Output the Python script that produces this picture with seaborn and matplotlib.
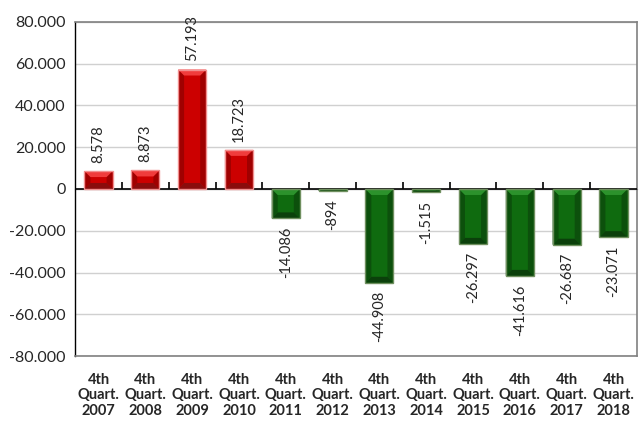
import numpy as np
import pandas as pd
import matplotlib
matplotlib.use("Agg")
import matplotlib.pyplot as plt
from matplotlib.patches import Polygon
from matplotlib.ticker import FuncFormatter, MultipleLocator
import seaborn as sns

quarters = ['4th\nQuart.\n2007', '4th\nQuart.\n2008', '4th\nQuart.\n2009', '4th\nQuart.\n2010',
            '4th\nQuart.\n2011', '4th\nQuart.\n2012', '4th\nQuart.\n2013', '4th\nQuart.\n2014',
            '4th\nQuart.\n2015', '4th\nQuart.\n2016', '4th\nQuart.\n2017', '4th\nQuart.\n2018']
saldo = [8578, 8873, 57193, 18723, -14086, -894, -44908, -1515, -26297, -41616, -26687, -23071]

df = pd.DataFrame({'periodo': quarters, 'saldo': saldo})
df['sinal'] = np.where(df['saldo'] >= 0, 'pos', 'neg')

cores = {'pos': '#CC0000', 'neg': '#0F6B0F'}
bevel = {
    'pos': {'top': '#F03C3C', 'bot': '#8A0C0C', 'side': '#A00000', 'edge': '#F29090'},
    'neg': {'top': '#2C922C', 'bot': '#0B400B', 'side': '#0C500C', 'edge': '#6F8F5F'},
}

def fmt_pt(v, pos=None):
    return f'{int(round(v)):,}'.replace(',', '.')

sns.set_style('white')
plt.rcParams['font.family'] = ['Lato', 'DejaVu Sans']

fig = plt.figure(figsize=(6.42, 4.29), dpi=100)
ax = fig.add_axes([0.117, 0.170, 0.875, 0.779])

sns.barplot(x='periodo', y='saldo', hue='sinal', data=df, palette=cores, dodge=False,
            width=0.6, legend=False, ax=ax, saturation=1, edgecolor='none')

ax.set_ylim(-80000, 80000)
ax.set_xlim(-0.5, len(quarters) - 0.5)
ax.yaxis.set_major_locator(MultipleLocator(20000))
ax.yaxis.set_major_formatter(FuncFormatter(fmt_pt))
ax.grid(axis='y', color='#D0D0D0', linewidth=1)
ax.set_axisbelow(True)
ax.set_xlabel('')
ax.set_ylabel('')

for s in ['top', 'right', 'bottom']:
    ax.spines[s].set_color('#808080')
    ax.spines[s].set_linewidth(1.2)
ax.spines['left'].set_color('black')
ax.spines['left'].set_linewidth(1)
ax.tick_params(axis='y', direction='out', length=4, width=1, color='black', labelsize=11.5, pad=3)
ax.tick_params(axis='x', length=0, labelsize=10.5, pad=12)
for t in ax.get_xticklabels():
    t.set_fontweight('bold')
    t.set_linespacing(1.15)

# zero line with category boundary ticks
ax.axhline(0, color='black', linewidth=1.2, zorder=3)
sec = ax.secondary_xaxis(0.5)
sec.set_xticks(np.arange(len(quarters) - 1) + 0.5)
sec.set_xticklabels([])
sec.tick_params(direction='out', length=5, width=1.2, color='black')
sec.spines['bottom'].set_visible(False)

# bevel effect built from the drawn bars
fig.canvas.draw()
px_x = ax.transData.transform([(1, 0)])[0][0] - ax.transData.transform([(0, 0)])[0][0]
px_y = ax.transData.transform([(0, 1000)])[0][1] - ax.transData.transform([(0, 0)])[0][1]
d_px = 6.0
for patch, val in zip(ax.patches, df['saldo']):
    k = 'pos' if val >= 0 else 'neg'
    x0 = patch.get_x()
    w = patch.get_width()
    x1 = x0 + w
    yb, yt = min(0, val), max(0, val)
    dx = d_px / px_x
    dy = min(d_px / px_y * 1000, (yt - yb) / 2)
    c = bevel[k]
    ax.add_patch(Polygon([(x0, yb), (x0 + dx, yb + dy), (x0 + dx, yt - dy), (x0, yt)],
                         closed=True, facecolor=c['side'], edgecolor='none', zorder=4))
    ax.add_patch(Polygon([(x1, yb), (x1 - dx, yb + dy), (x1 - dx, yt - dy), (x1, yt)],
                         closed=True, facecolor=c['side'], edgecolor='none', zorder=4))
    ax.add_patch(Polygon([(x0, yt), (x1, yt), (x1 - dx, yt - dy), (x0 + dx, yt - dy)],
                         closed=True, facecolor=c['top'], edgecolor='none', zorder=4))
    ax.add_patch(Polygon([(x0, yb), (x1, yb), (x1 - dx, yb + dy), (x0 + dx, yb + dy)],
                         closed=True, facecolor=c['bot'], edgecolor='none', zorder=4))
    ax.add_patch(Polygon([(x0, yb), (x1, yb), (x1, yt), (x0, yt)], closed=True,
                         facecolor='none', edgecolor=c['edge'], linewidth=1, zorder=5))
    off = 6 if val >= 0 else -6
    ax.annotate(fmt_pt(val), (x0 + w / 2, val), xytext=(0, off), textcoords='offset points',
                rotation=90, ha='center', va='bottom' if val >= 0 else 'top',
                fontsize=10.5, zorder=6)

fig.savefig('out.png', dpi=100)
